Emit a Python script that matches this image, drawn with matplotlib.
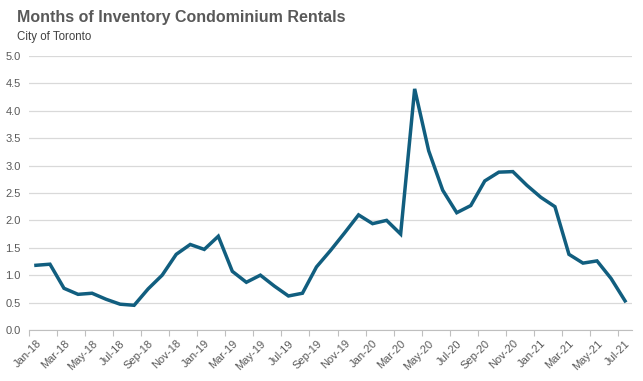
import numpy as np
import matplotlib
matplotlib.use("Agg")
import matplotlib.pyplot as plt

plt.rcParams["font.family"] = ["Liberation Sans", "DejaVu Sans"]

months = [
    "Jan-18", "Feb-18", "Mar-18", "Apr-18", "May-18", "Jun-18", "Jul-18", "Aug-18",
    "Sep-18", "Oct-18", "Nov-18", "Dec-18",
    "Jan-19", "Feb-19", "Mar-19", "Apr-19", "May-19", "Jun-19", "Jul-19", "Aug-19",
    "Sep-19", "Oct-19", "Nov-19", "Dec-19",
    "Jan-20", "Feb-20", "Mar-20", "Apr-20", "May-20", "Jun-20", "Jul-20", "Aug-20",
    "Sep-20", "Oct-20", "Nov-20", "Dec-20",
    "Jan-21", "Feb-21", "Mar-21", "Apr-21", "May-21", "Jun-21", "Jul-21",
]
inventory = [
    1.18, 1.20, 0.76, 0.65, 0.67, 0.56, 0.47, 0.45, 0.75, 1.00, 1.38, 1.56,
    1.47, 1.71, 1.07, 0.87, 1.00, 0.80, 0.62, 0.67, 1.15, 1.45, 1.77, 2.10,
    1.94, 2.00, 1.75, 4.40, 3.27, 2.55, 2.14, 2.27, 2.72, 2.88, 2.89, 2.64,
    2.42, 2.25, 1.38, 1.22, 1.26, 0.94, 0.53,
]

fig = plt.figure(figsize=(6.43, 3.81), dpi=100)
ax = fig.add_axes([0.045, 0.134, 0.938, 0.719])

x = np.arange(len(months))
ax.plot(x, inventory, color="#115e7f", linewidth=2.5, solid_joinstyle="miter")

ax.set_xlim(-0.5, len(months) - 0.5)
ax.set_ylim(0, 5)
yt = np.arange(0, 5.01, 0.5)
ax.set_yticks(yt)
ax.set_yticklabels([f"{v:.1f}" for v in yt])
ax.grid(axis="y", color="#d9d9d9", linewidth=0.9)
ax.set_axisbelow(True)

ax.set_xticks(x[::2])
ax.set_xticklabels(months[::2], rotation=45, ha="right", rotation_mode="anchor")
ax.set_xticks(np.arange(-0.5, len(months), 2), minor=True)
ax.tick_params(axis="x", which="major", length=0, pad=6, labelsize=8, labelcolor="#595959")
ax.tick_params(axis="x", which="minor", length=4, color="#bfbfbf", width=0.8)
ax.tick_params(axis="y", length=0, labelsize=8, labelcolor="#595959", pad=6)

for side in ["top", "right", "left"]:
    ax.spines[side].set_visible(False)
ax.spines["bottom"].set_color("#bfbfbf")
ax.spines["bottom"].set_linewidth(0.8)

fig.text(0.026, 0.955, "Months of Inventory Condominium Rentals", fontsize=11.5,
         fontweight="bold", color="#595959", va="center")
fig.text(0.026, 0.903, "City of Toronto", fontsize=8.3, color="#404040", va="center")

fig.savefig("out.png", dpi=100)
